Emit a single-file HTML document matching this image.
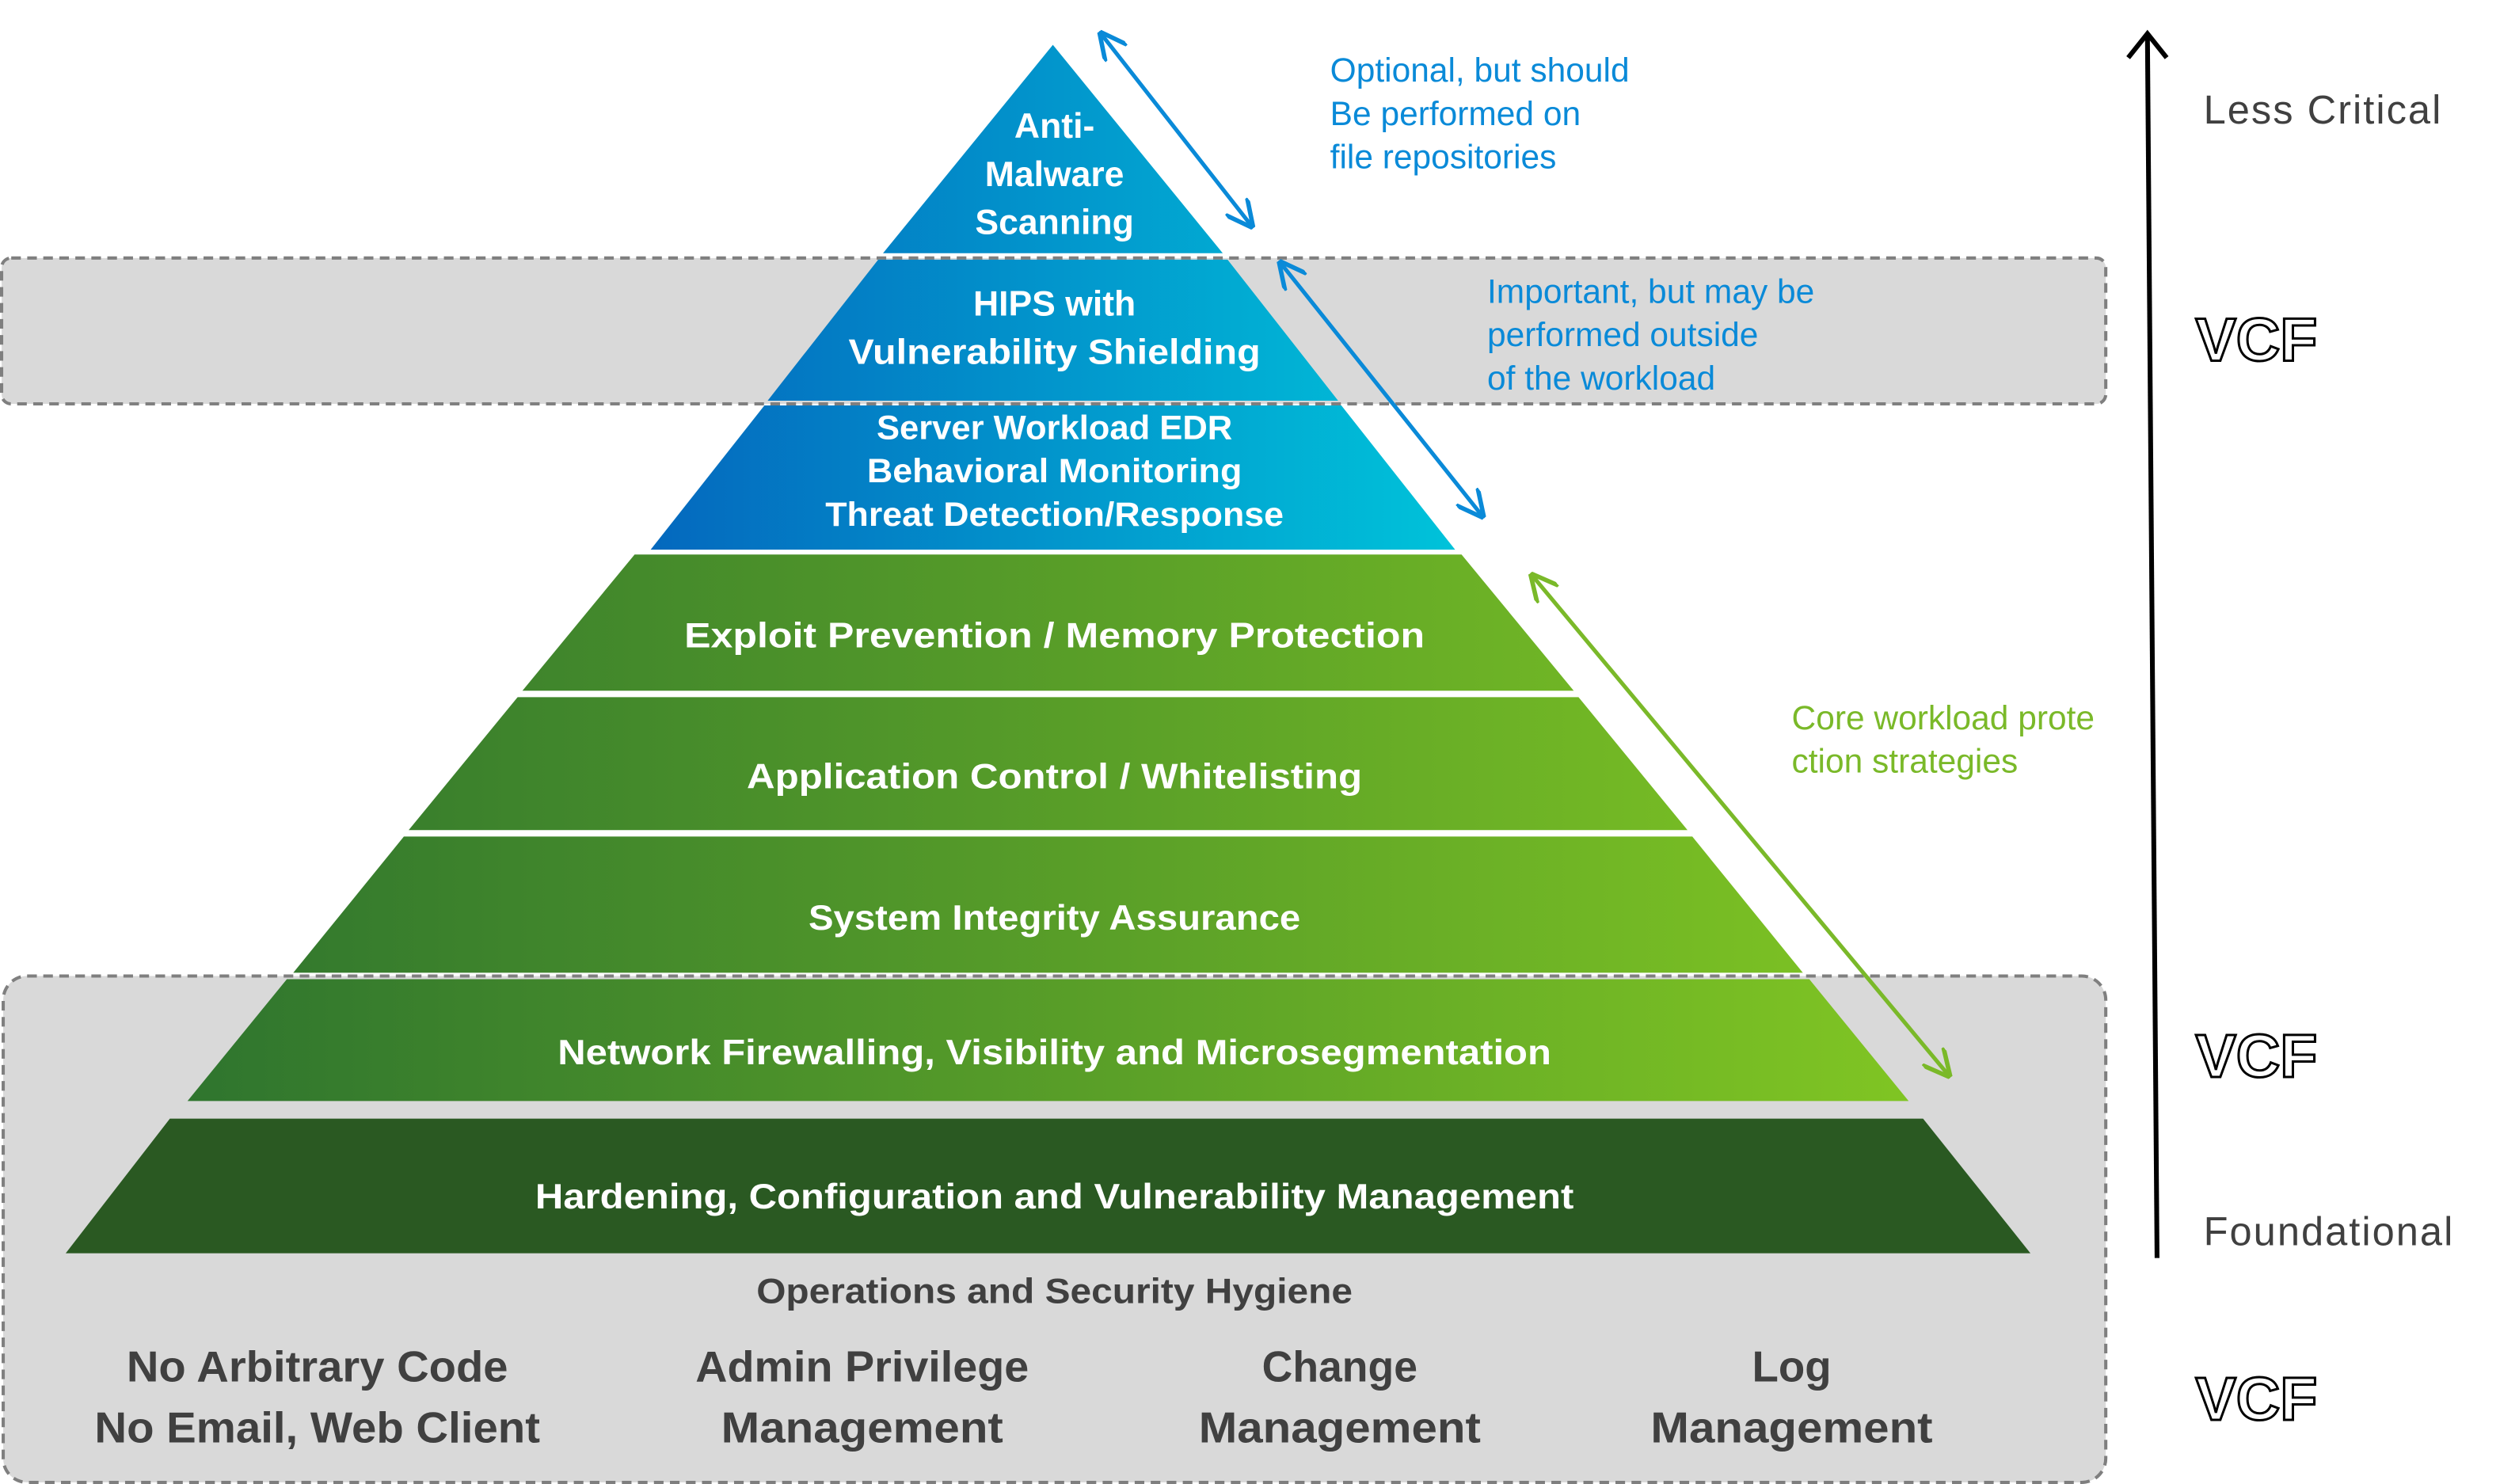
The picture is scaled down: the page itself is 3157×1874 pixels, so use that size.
<!DOCTYPE html>
<html><head><meta charset="utf-8"><style>html,body{margin:0;padding:0;background:#fff}svg{display:block}</style></head>
<body>
<svg width="3157" height="1874" viewBox="0 0 1560 926" preserveAspectRatio="none" xmlns="http://www.w3.org/2000/svg" font-family="'Liberation Sans', sans-serif">
<defs>
<linearGradient id="bl1" gradientUnits="userSpaceOnUse" x1="405" x2="910"><stop offset="0" stop-color="#0468be"/><stop offset="1" stop-color="#00c3da"/></linearGradient>
<linearGradient id="gr" gradientUnits="userSpaceOnUse" x1="118" x2="1196"><stop offset="0" stop-color="#2f752e"/><stop offset="1" stop-color="#80c523"/></linearGradient>
<marker id="ab" viewBox="0 0 10 10" refX="9" refY="5" markerWidth="7" markerHeight="7" orient="auto-start-reverse"><path d="M0,0 L10,5 L0,10" fill="none" stroke="#0a8ad8" stroke-width="1.6"/></marker>
<marker id="ag" viewBox="0 0 10 10" refX="9" refY="5" markerWidth="7" markerHeight="7" orient="auto-start-reverse"><path d="M0,0 L10,5 L0,10" fill="none" stroke="#7ab929" stroke-width="1.6"/></marker>
</defs>
<rect x="1" y="161" width="1313" height="91" rx="6" fill="#d9d9d9" stroke="#7f7f7f" stroke-width="2" stroke-dasharray="6,4"/>
<rect x="2" y="609" width="1312" height="316" rx="15" fill="#d9d9d9" stroke="#7f7f7f" stroke-width="2" stroke-dasharray="6,4"/>
<polygon points="657,28 763,158 551,158" fill="url(#bl1)"/>
<polygon points="548,162 766,162 835,250 479,250" fill="url(#bl1)"/>
<polygon points="477,253 837,253 908,343 406,343" fill="url(#bl1)"/>
<polygon points="396,346 912,346 982,431 326,431" fill="url(#gr)"/>
<polygon points="323,435 985,435 1053,518 255,518" fill="url(#gr)"/>
<polygon points="252,522 1056,522 1125,607 183,607" fill="url(#gr)"/>
<polygon points="179,611 1129,611 1191,687 117,687" fill="url(#gr)"/>
<polygon points="106,698 1200,698 1267,782 41,782" fill="#2a5922"/>
<g fill="#fff" font-weight="bold" text-anchor="middle" font-size="22">
<text x="658" y="86">Anti-</text>
<text x="658" y="116">Malware</text>
<text x="658" y="146">Scanning</text>
<text x="658" y="197">HIPS with</text>
<text x="658" y="227" textLength="257" lengthAdjust="spacingAndGlyphs">Vulnerability Shielding</text>
<text x="658" y="274" font-size="21" textLength="222" lengthAdjust="spacingAndGlyphs">Server Workload EDR</text>
<text x="658" y="301" font-size="21" textLength="234" lengthAdjust="spacingAndGlyphs">Behavioral Monitoring</text>
<text x="658" y="328" font-size="21" textLength="286" lengthAdjust="spacingAndGlyphs">Threat Detection/Response</text>
<text x="658" y="404" textLength="462" lengthAdjust="spacingAndGlyphs">Exploit Prevention  / Memory Protection</text>
<text x="658" y="492" textLength="384" lengthAdjust="spacingAndGlyphs">Application Control / Whitelisting</text>
<text x="658" y="580" textLength="307" lengthAdjust="spacingAndGlyphs">System Integrity Assurance</text>
<text x="658" y="664" textLength="620" lengthAdjust="spacingAndGlyphs">Network Firewalling, Visibility and Microsegmentation</text>
<text x="658" y="754" textLength="648" lengthAdjust="spacingAndGlyphs">Hardening, Configuration and Vulnerability Management</text>
</g>
<g fill="#404040" font-weight="bold" text-anchor="middle">
<text x="658" y="813" font-size="22" textLength="372" lengthAdjust="spacingAndGlyphs">Operations and Security Hygiene</text>
<g font-size="27">
<text x="198" y="862" textLength="238" lengthAdjust="spacingAndGlyphs">No Arbitrary Code</text>
<text x="198" y="900" textLength="278" lengthAdjust="spacingAndGlyphs">No Email, Web Client</text>
<text x="538" y="862" textLength="208" lengthAdjust="spacingAndGlyphs">Admin Privilege</text>
<text x="538" y="900" textLength="176" lengthAdjust="spacingAndGlyphs">Management</text>
<text x="836" y="862" textLength="97" lengthAdjust="spacingAndGlyphs">Change</text>
<text x="836" y="900" textLength="176" lengthAdjust="spacingAndGlyphs">Management</text>
<text x="1118" y="862">Log</text>
<text x="1118" y="900" textLength="176" lengthAdjust="spacingAndGlyphs">Management</text>
</g></g>
<line x1="687" y1="21" x2="781" y2="141" stroke="#0a8ad8" stroke-width="2.5" marker-start="url(#ab)" marker-end="url(#ab)"/>
<line x1="799" y1="164" x2="925" y2="322" stroke="#0a8ad8" stroke-width="2.5" marker-start="url(#ab)" marker-end="url(#ab)"/>
<line x1="956" y1="359" x2="1216" y2="671" stroke="#7ab929" stroke-width="2.5" marker-start="url(#ag)" marker-end="url(#ag)"/>
<g font-size="21" fill="#0a8ad8">
<text x="830" y="51">Optional, but should</text>
<text x="830" y="78">Be performed on</text>
<text x="830" y="105">file repositories</text>
<text x="928" y="189">Important, but may be</text>
<text x="928" y="216">performed outside</text>
<text x="928" y="243">of the workload</text>
</g>
<g font-size="21" fill="#7ab929">
<text x="1118" y="455">Core workload prote</text>
<text x="1118" y="482">ction strategies</text>
</g>
<line x1="1346" y1="785" x2="1340" y2="22" stroke="#000" stroke-width="3"/>
<path d="M1328,36 L1340,21 L1352,36" fill="none" stroke="#000" stroke-width="3"/>
<g font-size="25" fill="#404040">
<text x="1375" y="77" letter-spacing="1">Less Critical</text>
<text x="1375" y="777" letter-spacing="1">Foundational</text>
</g>
<g font-size="38" font-weight="bold" fill="#fff" stroke="#000" stroke-width="1.5">
<text x="1370" y="225">VCF</text>
<text x="1370" y="672">VCF</text>
<text x="1370" y="886">VCF</text>
</g>
</svg>
</body></html>
